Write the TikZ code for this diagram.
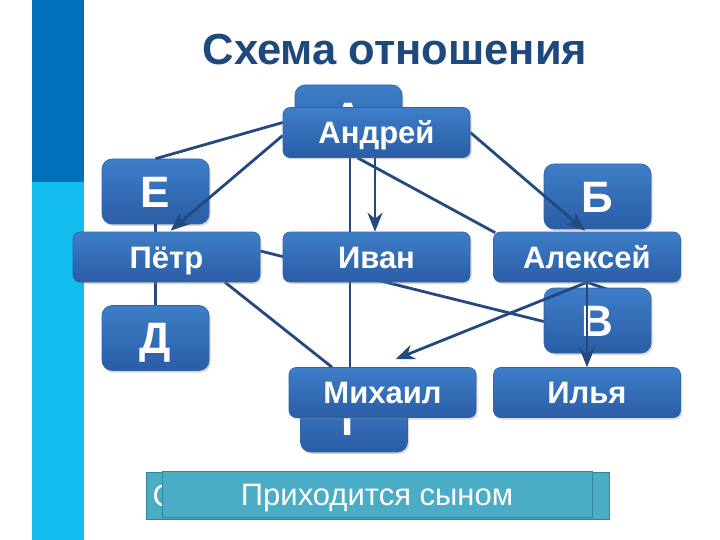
\documentclass[tikz,border=0pt]{standalone}
\usepackage{fontspec}
\setmainfont{Liberation Sans}
\usetikzlibrary{arrows.meta,calc,shadows}
\definecolor{darkbar}{RGB}{0,112,186}
\definecolor{lightbar}{RGB}{18,188,238}
\definecolor{titleblue}{RGB}{31,73,125}
\definecolor{linecol}{RGB}{36,72,128}
\definecolor{boxtop}{RGB}{62,126,200}
\definecolor{boxbot}{RGB}{42,93,166}
\definecolor{boxedge}{RGB}{48,100,170}
\definecolor{barfill}{RGB}{75,172,198}
\definecolor{baredge}{RGB}{50,135,160}
\pgfdeclarelayer{bg}
\pgfdeclarelayer{low}
\pgfdeclarelayer{letters}
\pgfdeclarelayer{lines}
\pgfsetlayers{bg,low,letters,lines,main}
\begin{document}
\begin{tikzpicture}[x=1pt,y=-1pt,
 box/.style={rounded corners=7pt, top color=boxtop, bottom color=boxbot, draw=boxedge, line width=0.6pt, inner sep=0pt, text=white, text depth=0pt, drop shadow={shadow xshift=1.5pt,shadow yshift=-2pt,opacity=0.3}},
 namebox/.style={box, minimum width=187pt, minimum height=50pt, font=\fontsize{31}{31}\selectfont\bfseries, text height=22.2pt},
 letterbox/.style={box, rounded corners=10pt, minimum width=107pt, minimum height=65pt, font=\fontsize{44}{44}\selectfont\bfseries, text height=31.5pt},
 link/.style={draw=linecol, line width=2.8pt},
 arr/.style={link, -{Stealth[length=19pt,width=15pt,inset=6pt]}},
 bar/.style={fill=barfill, draw=baredge, line width=1pt, inner sep=0pt},
 bartext/.style={text=white, font=\fontsize{31}{31}\selectfont, text height=22.2pt, text depth=0pt, inner sep=0pt}]
\useasboundingbox (0,0) rectangle (720,540);
\begin{pgfonlayer}{bg}
\fill[white] (0,0) rectangle (720,540);
\fill[darkbar] (32,0) rectangle (84,182);
\fill[lightbar] (32,182) rectangle (84,540);
\end{pgfonlayer}
\node[anchor=base, text=titleblue, font=\fontsize{43.5}{43.5}\selectfont\bfseries] (title) at (395,65) {Схема отношения};
% name boxes
\node[namebox] (a) at (376.5,132.5) {Андрей};
\node[namebox] (p) at (166.5,257) {Пётр};
\node[namebox] (i) at (376.5,257) {Иван};
\node[namebox] (al) at (587,257) {Алексей};
\node[namebox] (m) at (382.5,392.5) {Михаил};
\node[namebox] (il) at (587,392.5) {Илья};
% letter boxes
\begin{pgfonlayer}{letters}
\node[letterbox] (A) at (348.5,117.5) {А};
\node[letterbox] (G) at (354,419.5) {Г};
\node[letterbox] (E) at (155.5,191.5) {Е};
\node[letterbox] (B) at (597.5,196.5) {Б};
\node[letterbox] (V) at (597.5,320.5) {В};
\node[letterbox] (D) at (155.5,338) {Д};
\end{pgfonlayer}
\begin{pgfonlayer}{low}
\draw[link] (al.south) -- ($(V.north)+(11,2)$);
\end{pgfonlayer}
\begin{pgfonlayer}{lines}
\draw[link] ($(a.west)+(0,-10)$) -- (E.north);
\draw[arr] ($(a.west)+(0,3)$) -- ($(p.north)+(4,-1)$);
\draw[arr] ($(a.south)+(-1.5,0)$) -- ($(i.north)+(-1.5,0)$);
\draw[link] ($(A.south)+(1.5,0)$) -- ($(G.north)+(-4,0)$);
\draw[link] ($(a.south)+(-19,0)$) -- ($(al.north west)+(2,1)$);
\draw[arr] (a.east) -- ($(al.north)+(-2,-1)$);
\draw[link] (E.south) -- (D.north);
\draw[link] ($(p.south)+(58.5,0)$) -- ($(m.north)+(-50.5,0)$);
\draw[arr] (al.south) -- (il.north);
\draw[arr] (al.south) -- ($(m.north)+(13,-8)$);
\draw[link] ($(p.east)+(0,-6)$) -- ($(V.west)+(0,1)$);
\end{pgfonlayer}
% bottom bars
\node[bar, minimum width=463pt, minimum height=47pt] (back) at (377.5,495.5) {};
\node[bartext, anchor=west] (backtext) at ($(back.west)+(7,0)$) {С};
\node[bar, bartext, minimum width=430pt, minimum height=46pt] (front) at (377,494) {Приходится сыном};
\end{tikzpicture}
\end{document}
